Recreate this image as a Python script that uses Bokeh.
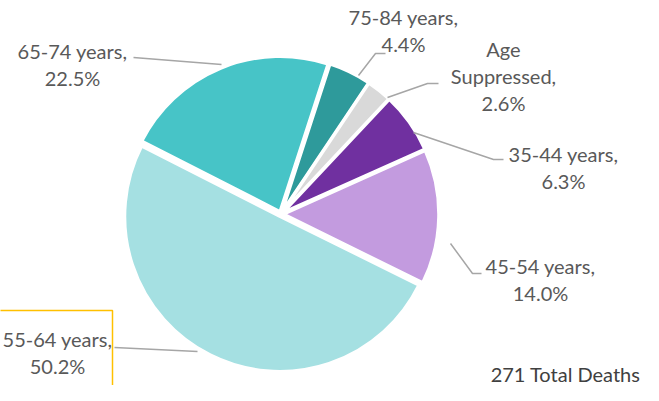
import math
from bokeh.plotting import figure
from bokeh.models import Range1d, ColumnDataSource
from bokeh.core.properties import value
from bokeh.embed import file_html
from bokeh.resources import INLINE

# ---- data ----
categories = ["75-84 years", "Age Suppressed", "35-44 years", "45-54 years", "55-64 years", "65-74 years"]
percents = [4.4, 2.6, 6.3, 14.0, 50.2, 22.5]
colors = ["#2E9A9B", "#D9D9D9", "#7030A0", "#C39BDF", "#A5E0E2", "#47C4C7"]
label_lines = [["75-84 years,", "4.4%"],
               ["Age", "Suppressed,", "2.6%"],
               ["35-44 years,", "6.3%"],
               ["45-54 years,", "14.0%"],
               ["55-64 years,", "50.2%"],
               ["65-74 years,", "22.5%"]]
total_deaths = 271

# ---- layout (reference pixel coords, y down) ----
H = 401
FW, FH = 643, 385
cx, cy = 280.5, 213.5
radius = 155
explode = 2.7
first_angle_cw = 18.0  # degrees clockwise from 12 o'clock

# first-line centre of each label, line spacing
label_pos = [(403, 16), (503, 48), (563, 153), (540, 265), (57, 338), (72, 50)]
line_gap = 27
leaders = [
    [(385, 53), (375, 53), (358, 75)],
    [(438, 83), (427, 83), (387, 97)],
    [(503, 159), (493, 159), (413, 132)],
    [(481, 273), (472, 273), (450, 243)],
    [(114, 347), (197, 351)],
    [(133, 57), (221, 64)],
]

def Y(y):
    return H - y

p = figure(width=FW, height=FH, output_backend="svg", toolbar_location=None,
           x_range=Range1d(0, FW), y_range=Range1d(Y(FH), Y(0)), min_border=0)
p.axis.visible = False
p.grid.visible = False
p.outline_line_color = None
p.background_fill_color = "white"
p.border_fill_color = "white"

# wedges
total = sum(percents)
acc = first_angle_cw
xs_c, ys_c, starts, ends = [], [], [], []
for v in percents:
    a0 = acc
    a1 = acc + v / total * 360.0
    mid = math.radians(90 - (a0 + a1) / 2)
    xs_c.append(cx + explode * math.cos(mid))
    ys_c.append(Y(cy) + explode * math.sin(mid))
    starts.append(math.radians(90 - a1))
    ends.append(math.radians(90 - a0))
    acc = a1

src = ColumnDataSource(dict(x=xs_c, y=ys_c, s=starts, e=ends, c=colors))
p.wedge(x="x", y="y", radius=radius, start_angle="s", end_angle="e",
        fill_color="c", line_color="white", line_width=3, source=src)

# leader lines
p.multi_line(xs=[[pt[0] for pt in l] for l in leaders],
             ys=[[Y(pt[1]) for pt in l] for l in leaders],
             line_color="#A6A6A6", line_width=1.5)

# labels
tx, ty, tt = [], [], []
for (lx, ly), lines in zip(label_pos, label_lines):
    for i, t in enumerate(lines):
        tx.append(lx)
        ty.append(Y(ly + i * line_gap))
        tt.append(t)
p.text(x=tx, y=ty, text=tt, text_font=value("Lato"), text_font_size="20px",
       text_color="#595959", text_align="center", text_baseline="middle")

# selection box around 55-64 label
p.quad(left=[-3], right=[112], top=[Y(310)], bottom=[Y(410)],
       fill_color=None, line_color="#FFC000", line_width=1.5)

# total deaths
p.text(x=[640], y=[Y(373)], text=[f"{total_deaths} Total Deaths"],
       text_font=value("Lato"), text_font_size="20px", text_color="#404040",
       text_align="right", text_baseline="middle")

open("out.html", "w").write(file_html(p, INLINE))
